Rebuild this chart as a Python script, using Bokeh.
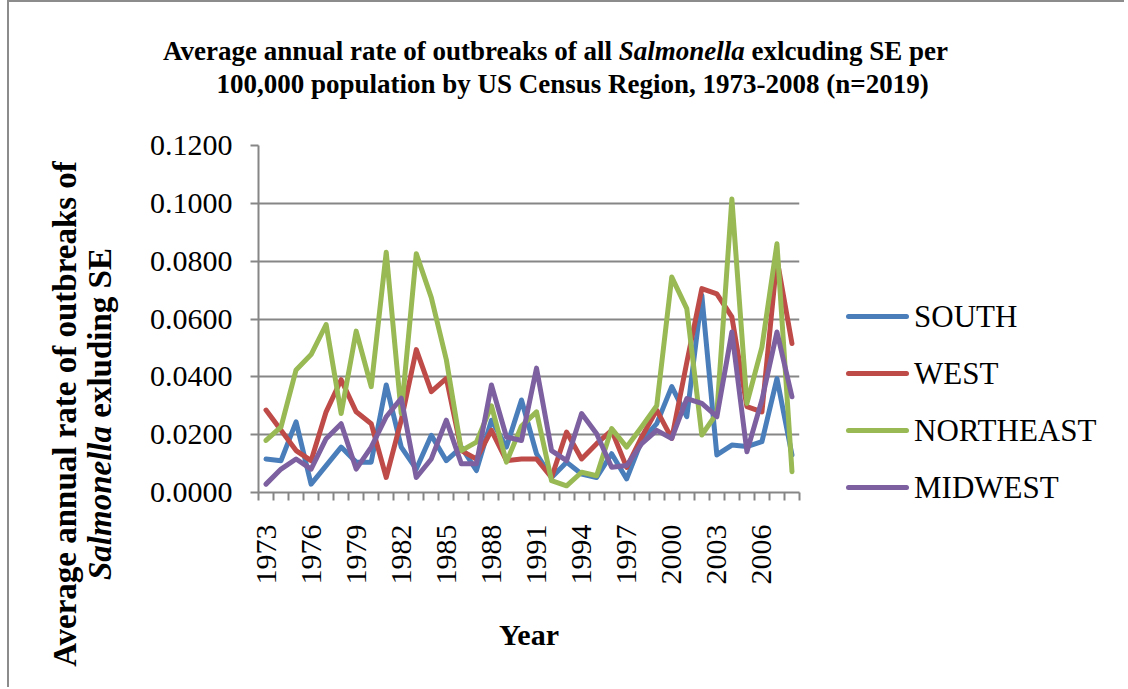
from math import pi
from bokeh.plotting import figure
from bokeh.layouts import column, row
from bokeh.models import (Range1d, FixedTicker, NumeralTickFormatter, Div)
from bokeh.embed import file_html
from bokeh.resources import INLINE

# ---------------- data ----------------
years = list(range(1973, 2009))
south = [0.0116, 0.0110, 0.0244, 0.0029, 0.0093, 0.0157, 0.0105, 0.0105, 0.0372,
         0.0157, 0.0081, 0.0198, 0.0110, 0.0157, 0.0076, 0.0250, 0.0157, 0.0320,
         0.0134, 0.0052, 0.0105, 0.0064, 0.0052, 0.0134, 0.0047, 0.0180, 0.0238,
         0.0366, 0.0262, 0.0682, 0.0130, 0.0164, 0.0159, 0.0176, 0.0394, 0.0130]
west = [0.0285, 0.0215, 0.0145, 0.0110, 0.0279, 0.0390, 0.0279, 0.0238, 0.0052,
        0.0250, 0.0494, 0.0349, 0.0395, 0.0145, 0.0116, 0.0215, 0.0110, 0.0116,
        0.0116, 0.0052, 0.0209, 0.0116, 0.0169, 0.0215, 0.0087, 0.0192, 0.0285,
        0.0187, 0.0450, 0.0705, 0.0687, 0.0607, 0.0297, 0.0279, 0.0808, 0.0515]
northeast = [0.0180, 0.0227, 0.0424, 0.0477, 0.0581, 0.0273, 0.0558, 0.0366, 0.0831,
             0.0273, 0.0826, 0.0674, 0.0459, 0.0145, 0.0174, 0.0300, 0.0105, 0.0230,
             0.0279, 0.0041, 0.0023, 0.0070, 0.0058, 0.0221, 0.0157, 0.0227, 0.0300,
             0.0745, 0.0636, 0.0199, 0.0274, 0.1015, 0.0308, 0.0503, 0.0860, 0.0072]
midwest = [0.0029, 0.0081, 0.0116, 0.0081, 0.0186, 0.0238, 0.0081, 0.0157, 0.0262,
           0.0326, 0.0052, 0.0116, 0.0250, 0.0099, 0.0099, 0.0372, 0.0192, 0.0180,
           0.0430, 0.0145, 0.0110, 0.0273, 0.0203, 0.0087, 0.0093, 0.0169, 0.0215,
           0.0187, 0.0325, 0.0308, 0.0262, 0.0555, 0.0141, 0.0320, 0.0555, 0.0331]
series_names = ["SOUTH", "WEST", "NORTHEAST", "MIDWEST"]
series_values = [south, west, northeast, midwest]
series_colors = ["#4A7EBB", "#BE4B48", "#98B954", "#7D60A0"]
tick_years = [1973, 1976, 1979, 1982, 1985, 1988, 1991, 1994, 1997, 2000, 2003, 2006]
y_ticks = [0.0, 0.02, 0.04, 0.06, 0.08, 0.10, 0.12]

title_line1 = "Average annual rate of outbreaks of all <i>Salmonella</i> exlcuding SE per"
title_line2 = "100,000 population by US Census Region, 1973-2008 (n=2019)"
ylabel_line1 = "Average annual rate of outbreaks of"
ylabel_line2 = "<i>Salmonella</i> exluding SE"
xlabel = "Year"

FONT = "Liberation Serif"
GRAY = "#868686"

# ---------------- main figure ----------------
p = figure(width=670, height=575, output_backend="svg", toolbar_location=None,
           title=None,
           x_range=Range1d(1972.5, 2008.5), y_range=Range1d(0, 0.12),
           min_border_left=119, min_border_right=10,
           min_border_top=33, min_border_bottom=195)
p.outline_line_color = None

xa = p.xaxis[0]
xa.ticker = FixedTicker(ticks=tick_years,
                        minor_ticks=[years[0] - 0.5 + i for i in range(len(years) + 1)])
xa.major_label_overrides = {y: str(y) for y in tick_years}
xa.major_tick_out = 0
xa.major_tick_in = 0
xa.minor_tick_out = 8
xa.minor_tick_in = 0
xa.minor_tick_line_color = GRAY
xa.minor_tick_line_width = 2
xa.axis_line_color = GRAY
xa.axis_line_width = 2
xa.major_label_orientation = pi / 2
xa.major_label_standoff = 24
xa.major_label_text_font = FONT
xa.major_label_text_font_size = "30px"
xa.major_label_text_color = "black"
xa.axis_label = xlabel
xa.axis_label_standoff = 30
xa.axis_label_text_font = FONT
xa.axis_label_text_font_size = "30px"
xa.axis_label_text_font_style = "bold"
xa.axis_label_text_color = "black"

ya = p.yaxis[0]
ya.ticker = FixedTicker(ticks=y_ticks, minor_ticks=[])
ya.formatter = NumeralTickFormatter(format="0.0000")
ya.major_tick_out = 8
ya.major_tick_in = 0
ya.major_tick_line_color = GRAY
ya.major_tick_line_width = 2
ya.axis_line_color = GRAY
ya.axis_line_width = 2
ya.major_label_standoff = 18
ya.major_label_text_font = FONT
ya.major_label_text_font_size = "30px"
ya.major_label_text_color = "black"

p.xgrid.visible = False
p.ygrid.ticker = FixedTicker(ticks=y_ticks)
p.ygrid.grid_line_color = GRAY
p.ygrid.grid_line_width = 2

for vals, col in zip(series_values, series_colors):
    p.line(years, vals, line_width=5, line_color=col, line_join="round", line_cap="round")

# ---------------- legend (HTML block to the right of the plot) ----------------
legend_rows = []
for i, (name, col) in enumerate(zip(series_names, series_colors)):
    top = 184 + 57 * i
    legend_rows.append(
        "<div style=\"position:absolute;left:37px;top:%dpx;height:40px;display:flex;align-items:center;"
        "white-space:nowrap\">"
        "<div style=\"width:63px;height:5px;border-radius:2.5px;background:%s;margin-right:5px\"></div>"
        "<span style=\"font-family:'Liberation Serif';font-size:31px;line-height:31px;color:#000\">%s</span>"
        "</div>" % (top, col, name))
legend_html = ("<div style=\"position:relative;width:315px;height:575px\">"
               + "".join(legend_rows) + "</div>")
legend_div = Div(text=legend_html, width=315, height=575, margin=0)

# ---------------- text blocks ----------------
title_html = (
    "<div style=\"position:relative;width:1115px;height:110px;font-family:'Liberation Serif';"
    "font-weight:bold;font-size:27px;line-height:33px;color:#000\">"
    "<div style=\"position:absolute;left:154px;top:33px;width:782px;text-align:center;white-space:nowrap\">"
    + title_line1 + "</div>"
    "<div style=\"position:absolute;left:189px;top:66px;width:749px;text-align:center;white-space:nowrap\">"
    + title_line2 + "</div></div>"
)
title_div = Div(text=title_html, width=1115, height=110, margin=0)

ylab_html = (
    "<div style=\"position:relative;width:130px;height:575px;font-family:'Liberation Serif';"
    "font-weight:bold;font-size:33px;line-height:35px;color:#000\">"
    "<div style=\"position:absolute;left:74px;top:302px;transform:translate(-50%,-50%) rotate(-90deg);"
    "text-align:center;white-space:nowrap\">"
    + ylabel_line1 + "<br>" + ylabel_line2 + "</div></div>"
)
ylab_div = Div(text=ylab_html, width=130, height=575, margin=0)

layout = column(title_div, row(ylab_div, p, legend_div, spacing=0), spacing=0,
                styles={"border-left": "2px solid #8c8c8c", "border-top": "2px solid #8c8c8c",
                        "margin-left": "7px", "background": "white"})

open("out.html", "w").write(file_html(layout, INLINE))
